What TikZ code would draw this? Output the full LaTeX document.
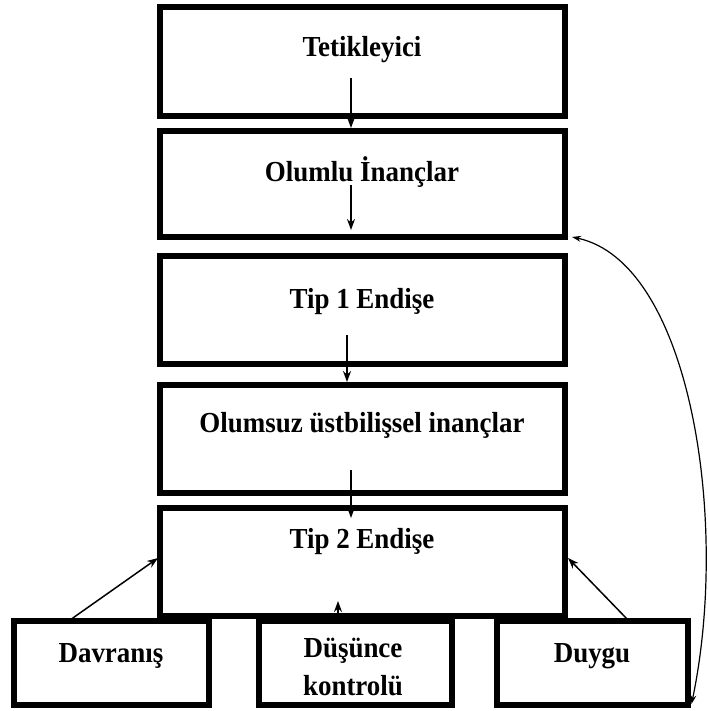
\documentclass[tikz,border=0pt]{standalone}
\usepackage{fontspec}
\setmainfont{Liberation Serif}
\newfontfamily\lblfont{Liberation Serif}[FakeStretch=0.93]
\usetikzlibrary{arrows.meta,calc}
\begin{document}
\begin{tikzpicture}[x=1pt,y=-1pt,
  box/.style={draw, line width=6pt, inner sep=0pt},
  lbl/.style={font=\lblfont\fontsize{29}{38}\selectfont\bfseries, inner sep=0pt, anchor=base},
  arr/.style={-{Stealth[length=11pt,width=8pt]}, line width=1.5pt},
  darr/.style={{Stealth[length=9pt,width=6pt]}-{Stealth[length=9pt,width=6pt]}, line width=1.2pt}]
\useasboundingbox (0,0) rectangle (708,711);
% main boxes
\node[box, minimum width=405pt, minimum height=109pt] (tet) at (362.5,61.5) {};
\node[box, minimum width=405pt, minimum height=106pt] (olu) at (362.5,184) {};
\node[box, minimum width=405pt, minimum height=108pt] (tip1) at (362.5,310) {};
\node[box, minimum width=405pt, minimum height=108pt] (ols) at (362.5,439) {};
\node[box, minimum width=405pt, minimum height=108pt] (tip2) at (362.5,562) {};
% bottom boxes
\node[box, minimum width=195pt, minimum height=84pt] (dav) at (111.5,663) {};
\node[box, minimum width=193pt, minimum height=84pt] (dus) at (355,663) {};
\node[box, minimum width=191pt, minimum height=84pt] (duy) at (592,663) {};
% labels
\node[lbl] (tTet) at (362,57) {Tetikleyici};
\node[lbl] (tOlu) at (362,182) {Olumlu İnançlar};
\node[lbl] (tTip1) at (362,308) {Tip 1 Endişe};
\node[lbl] (tOls) at (362,432) {Olumsuz üstbilişsel inançlar};
\node[lbl] (tTip2) at (362,548) {Tip 2 Endişe};
\node[lbl] (tDav) at (111,662) {Davranış};
\node[lbl] (tDus1) at (353,657) {Düşünce};
\node[lbl] (tDus2) at (353,695) {kontrolü};
\node[lbl] (tDuy) at (592,662) {Duygu};
% arrow coordinates
\coordinate (a1s) at (351,78);
\coordinate (a2s) at (351,185);
\coordinate (a2e) at (351,230);
\coordinate (a3s) at (347,335);
\coordinate (a4s) at (351,470);
\coordinate (a4e) at (351,518);
\coordinate (a5s) at (70,620);
\coordinate (a5e) at (158,558);
\coordinate (a6s) at (628,620);
\coordinate (a6e) at (568,558);
\coordinate (a7s) at (338,621);
\coordinate (a7e) at (338,601);
\draw[arr] (a1s) -- (a1s |- olu.north);
\draw[arr] (a2s) -- (a2e);
\draw[arr] (a3s) -- (a3s |- ols.north);
\draw[arr] (a4s) -- (a4e);
\draw[arr] (a5s) -- (a5e);
\draw[arr] (a6s) -- (a6e);
\draw[arr] (a7s) -- (a7e);
\draw[darr] ($(olu.south east)+(4,-3)$) .. controls (690,262) and (730,520) .. ($(duy.south east)+(1,-4)$);
\end{tikzpicture}
\end{document}
